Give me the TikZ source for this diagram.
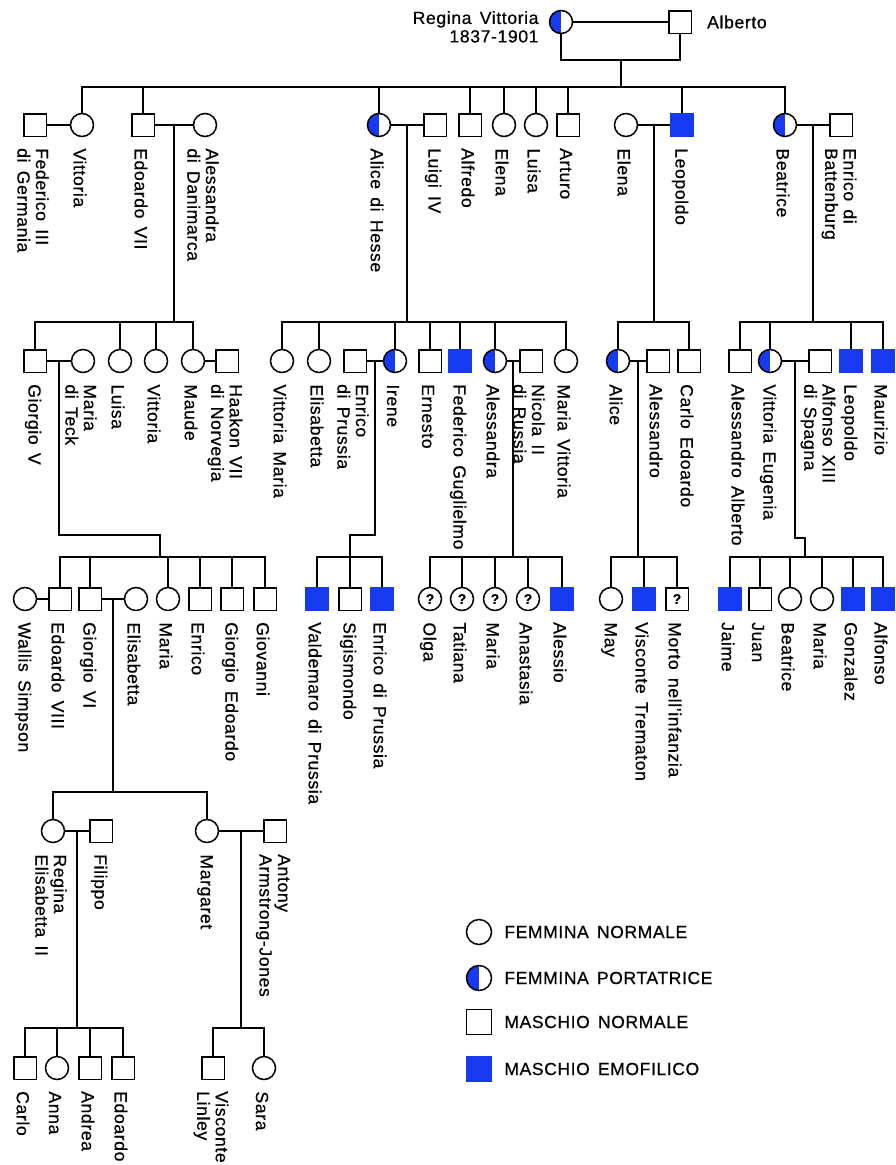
\documentclass[tikz,border=0pt]{standalone}
\usepackage{fontspec}
\setmainfont{Liberation Sans}[LetterSpace=3.5,WordSpace=1.5,FakeBold=0.5]
\usepackage{tikz}
\usetikzlibrary{calc}
\definecolor{hemo}{RGB}{22,58,240}
\newcommand{\namefont}{\fontsize{17.6}{18.5}\selectfont}
\newcommand{\keyfont}{\fontsize{17.5}{19}\selectfont}
\tikzset{
	male/.style={draw, rectangle, line width=1.5pt, minimum size=22.5pt, inner sep=0pt},
	female/.style={draw, circle, line width=1.5pt, minimum size=23pt, inner sep=0pt},
	sick/.style={male, fill=hemo, draw=hemo},
	carrier/.style={female,
		path picture={\fill[hemo] (path picture bounding box.south west) rectangle (path picture bounding box.north);}},
	unknown/.style={font=\fontsize{14}{14}\bfseries},
	% names run downwards under each symbol
	tag/.style={yshift=-11pt, xshift=-2pt, rotate=-90, anchor=west, align=left, inner sep=0pt, font=\namefont},
	keytext/.style={font=\keyfont, inner sep=0pt, xshift=12pt},
	kin/.style={line width=1.7pt}
}

\begin{document}
\begin{tikzpicture}[x=1pt, y=-1pt]
	\useasboundingbox[fill=white] (0,0) rectangle (895,1165);

	% Regina Vittoria and Alberto
	\node[carrier,
		label={[font=\namefont, align=right, anchor=north east, inner sep=0pt, xshift=-10pt, yshift=11pt]left:Regina Vittoria\\1837-1901}
	] (regina) at (561,22) {};
	\node[male, label={[font=\namefont, inner sep=0pt, xshift=15pt]right:Alberto}] (alberto) at (680,22) {};
	\coordinate (m-top) at (621,60);
	\coordinate (b-top) at (621,87);
	\draw[kin] (regina) -- (alberto)
	(regina) |- (m-top) -| (alberto)
	(m-top) -- (b-top);

	% first generation
	\node[male, label={[tag]below:Federico III\\di Germania}] (federico) at (35,125) {};
	\node[female, label={[tag]below:Vittoria}] (vittoria) at (82,125) {};
	\node[male, label={[tag]below:Edoardo VII}] (edoardo7) at (143,125) {};
	\node[female, label={[tag]below:Alessandra\\di Danimarca}] (alessandra) at (205,125) {};
	\node[carrier, label={[tag]below:Alice di Hesse}] (alice) at (379,125) {};
	\node[male, label={[tag]below:Luigi IV}] (luigi) at (435,125) {};
	\node[male, label={[tag]below:Alfredo}] (alfredo) at (470,125) {};
	\node[female, label={[tag]below:Elena}] (elena) at (504,125) {};
	\node[female, label={[tag]below:Luisa}] (luisa) at (536,125) {};
	\node[male, label={[tag]below:Arturo}] (arturo) at (568,125) {};
	\node[female, label={[tag]below:Elena}] (elenaW) at (626,125) {};
	\node[sick, label={[tag]below:Leopoldo}] (leopoldo) at (682,125) {};
	\node[carrier, label={[tag]below:Beatrice}] (beatrice) at (785,125) {};
	\node[male, label={[tag]below:Enrico di\\Battenburg}] (enricoB) at (841,125) {};

	\draw[kin] (b-top) -| (vittoria) (b-top) -| (edoardo7) (b-top) -| (alice)
	(b-top) -| (alfredo) (b-top) -| (elena) (b-top) -| (luisa) (b-top) -| (arturo)
	(b-top) -| (leopoldo) (b-top) -| (beatrice);

	% marriages
	\draw[kin] (federico) -- (vittoria) (edoardo7) -- (alessandra) (alice) -- (luigi)
	(elenaW) -- (leopoldo) (beatrice) -- (enricoB);
	\coordinate (m-edo) at ($(edoardo7)!.5!(alessandra)$);
	\coordinate (m-ali) at ($(alice)!.5!(luigi)$);
	\coordinate (m-leo) at ($(elenaW)!.5!(leopoldo)$);
	\coordinate (m-bea) at ($(beatrice)!.5!(enricoB)$);
	\coordinate (b-edo) at (174,322);
	\coordinate (b-ali) at (407,322);
	\coordinate (b-leo) at (654,322);
	\coordinate (b-bea) at (813,322);
	\draw[kin] (m-edo) -- (b-edo) (m-ali) -- (b-ali) (m-leo) -- (b-leo) (m-bea) -- (b-bea);

	% second generation
	\node[male, label={[tag]below:Giorgio V}] (giorgio5) at (35,361) {};
	\node[female, label={[tag]below:Maria\\di Teck}] (mariaT) at (83,361) {};
	\node[female, label={[tag]below:Luisa}] (luisa2) at (120,361) {};
	\node[female, label={[tag]below:Vittoria}] (vittoria2) at (156,361) {};
	\node[female, label={[tag]below:Maude}] (maude) at (193,361) {};
	\node[male, label={[tag]below:Haakon VII\\di Norvegia}] (haakon) at (227,361) {};
	\node[female, label={[tag]below:Vittoria Maria}] (vitMaria) at (282,361) {};
	\node[female, label={[tag]below:Elisabetta}] (elisabetta) at (319,361) {};
	\node[male, label={[tag]below:Enrico\\di Prussia}] (enricoP) at (355,361) {};
	\node[carrier, label={[tag]below:Irene}] (irene) at (395,361) {};
	\node[male, label={[tag]below:Ernesto}] (ernesto) at (430,361) {};
	\node[sick, label={[tag]below:Federico Guglielmo}] (fedGugl) at (460,361) {};
	\node[carrier, label={[tag]below:Alessandra}] (alessandra2) at (495,361) {};
	\node[male, label={[tag]below:Nicola II\\di Russia}] (nicola) at (531,361) {};
	\node[female, label={[tag]below:Maria Vittoria}] (mariaVit) at (566,361) {};
	\node[carrier, label={[tag]below:Alice}] (alice2) at (618,361) {};
	\node[male, label={[tag]below:Alessandro}] (alessandro) at (658,361) {};
	\node[male, label={[tag]below:Carlo Edoardo}] (carloEd) at (689,361) {};
	\node[male, label={[tag]below:Alessandro Alberto}] (alessAlb) at (740,361) {};
	\node[carrier, label={[tag]below:Vittoria Eugenia}] (vitEug) at (770,361) {};
	\node[male, label={[tag]below:Alfonso XIII\\di Spagna}] (alfonso13) at (820,361) {};
	\node[sick, label={[tag]below:Leopoldo}] (leopoldo2) at (851,361) {};
	\node[sick, label={[tag]below:Maurizio}] (maurizio) at (883,361) {};

	\draw[kin] (b-edo) -| (giorgio5) (b-edo) -| (luisa2) (b-edo) -| (vittoria2) (b-edo) -| (maude);
	\draw[kin] (b-ali) -| (vitMaria) (b-ali) -| (elisabetta) (b-ali) -| (irene) (b-ali) -| (ernesto)
	(b-ali) -| (fedGugl) (b-ali) -| (alessandra2) (b-ali) -| (mariaVit);
	\draw[kin] (b-leo) -| (alice2) (b-leo) -| (carloEd);
	\draw[kin] (b-bea) -| (alessAlb) (b-bea) -| (vitEug) (b-bea) -| (leopoldo2) (b-bea) -| (maurizio);

	% marriages
	\draw[kin] (giorgio5) -- (mariaT) (maude) -- (haakon) (enricoP) -- (irene)
	(alessandra2) -- (nicola) (alice2) -- (alessandro) (vitEug) -- (alfonso13);
	\coordinate (m-g5) at ($(giorgio5)!.5!(mariaT)$);
	\coordinate (m-ire) at ($(enricoP)!.5!(irene)$);
	\coordinate (m-nic) at ($(alessandra2)!.5!(nicola)$);
	\coordinate (m-al2) at ($(alice2)!.5!(alessandro)$);
	\coordinate (m-vit) at ($(vitEug)!.5!(alfonso13)$);
	\coordinate (j-g5) at (160,535);
	\coordinate (b-g5) at (160,557);
	\coordinate (j-ire) at (350,535);
	\coordinate (b-ire) at (350,557);
	\coordinate (b-nic) at (513,557);
	\coordinate (b-al2) at (638,557);
	\coordinate (j-vit) at (805,538);
	\coordinate (b-vit) at (805,557);
	\draw[kin] (m-g5) |- (j-g5) -- (b-g5)
	(m-ire) |- (j-ire) -- (b-ire)
	(m-nic) -- (b-nic)
	(m-al2) -- (b-al2)
	(m-vit) |- (j-vit) -- (b-vit);

	% third generation
	\node[female, label={[tag]below:Wallis Simpson}] (wallis) at (25,599) {};
	\node[male, label={[tag]below:Edoardo VIII}] (edoardo8) at (60,599) {};
	\node[male, label={[tag]below:Giorgio VI}] (giorgio6) at (90,599) {};
	\node[female, label={[tag]below:Elisabetta}] (elisabettaR) at (136,599) {};
	\node[female, label={[tag]below:Maria}] (maria3) at (168,599) {};
	\node[male, label={[tag]below:Enrico}] (enrico3) at (200,599) {};
	\node[male, label={[tag]below:Giorgio Edoardo}] (giorgioEd) at (232,599) {};
	\node[male, label={[tag]below:Giovanni}] (giovanni) at (265,599) {};
	\node[sick, label={[tag]below:Valdemaro di Prussia}] (valdemaro) at (317,599) {};
	\node[male, label={[tag]below:Sigismondo}] (sigismondo) at (350,599) {};
	\node[sick, label={[tag]below:Enrico di Prussia}] (enricoP2) at (382,599) {};
	\node[female, unknown, label={[tag]below:Olga}] (olga) at (430,599) {?};
	\node[female, unknown, label={[tag]below:Tatiana}] (tatiana) at (462,599) {?};
	\node[female, unknown, label={[tag]below:Maria}] (maria4) at (495,599) {?};
	\node[female, unknown, label={[tag]below:Anastasia}] (anastasia) at (528,599) {?};
	\node[sick, label={[tag]below:Alessio}] (alessio) at (562,599) {};
	\node[female, label={[tag]below:May}] (may) at (611,599) {};
	\node[sick, label={[tag]below:Visconte Trematon}] (trematon) at (644,599) {};
	\node[male, unknown, label={[tag]below:Morto nell'infanzia}] (morto) at (677,599) {?};
	\node[sick, label={[tag]below:Jaime}] (jaime) at (730,599) {};
	\node[male, label={[tag]below:Juan}] (juan) at (760,599) {};
	\node[female, label={[tag]below:Beatrice}] (beatrice2) at (790,599) {};
	\node[female, label={[tag]below:Maria}] (maria5) at (822,599) {};
	\node[sick, label={[tag]below:Gonzalez}] (gonzalez) at (853,599) {};
	\node[sick, label={[tag]below:Alfonso}] (alfonso) at (883,599) {};

	\draw[kin] (b-g5) -| (edoardo8) (b-g5) -| (giorgio6) (b-g5) -| (maria3) (b-g5) -| (enrico3)
	(b-g5) -| (giorgioEd) (b-g5) -| (giovanni);
	\draw[kin] (b-ire) -| (valdemaro) (b-ire) -| (sigismondo) (b-ire) -| (enricoP2);
	\draw[kin] (b-nic) -| (olga) (b-nic) -| (tatiana) (b-nic) -| (maria4) (b-nic) -| (anastasia)
	(b-nic) -| (alessio);
	\draw[kin] (b-al2) -| (may) (b-al2) -| (trematon) (b-al2) -| (morto);
	\draw[kin] (b-vit) -| (jaime) (b-vit) -| (juan) (b-vit) -| (beatrice2) (b-vit) -| (maria5)
	(b-vit) -| (gonzalez) (b-vit) -| (alfonso);

	% marriages
	\draw[kin] (wallis) -- (edoardo8) (giorgio6) -- (elisabettaR);
	\coordinate (m-g6) at ($(giorgio6)!.5!(elisabettaR)$);
	\coordinate (b-g6) at (113,792);
	\draw[kin] (m-g6) -- (b-g6);

	% fourth generation
	\node[female, label={[tag]below:Regina\\Elisabetta II}] (regElis) at (53,831) {};
	\node[male, label={[tag]below:Filippo}] (filippo) at (101,831) {};
	\node[female, label={[tag]below:Margaret}] (margaret) at (207,831) {};
	\node[male, label={[tag]below:Antony\\Armstrong-Jones}] (antony) at (275,831) {};

	\draw[kin] (b-g6) -| (regElis) (b-g6) -| (margaret);
	\draw[kin] (regElis) -- (filippo) (margaret) -- (antony);
	\coordinate (m-eli) at ($(regElis)!.5!(filippo)$);
	\coordinate (m-mar) at ($(margaret)!.5!(antony)$);
	\coordinate (b-eli) at (77,1028);
	\coordinate (b-mar) at (241,1028);
	\draw[kin] (m-eli) -- (b-eli) (m-mar) -- (b-mar);

	% fifth generation
	\node[male, label={[tag]below:Carlo}] (carlo) at (25,1068) {};
	\node[female, label={[tag]below:Anna}] (anna) at (57,1068) {};
	\node[male, label={[tag]below:Andrea}] (andrea) at (90,1068) {};
	\node[male, label={[tag]below:Edoardo}] (edoardo) at (123,1068) {};
	\node[male, label={[tag]below:Visconte\\Linley}] (linley) at (213,1068) {};
	\node[female, label={[tag]below:Sara}] (sara) at (264,1068) {};

	\draw[kin] (b-eli) -| (carlo) (b-eli) -| (anna) (b-eli) -| (andrea) (b-eli) -| (edoardo);
	\draw[kin] (b-mar) -| (linley) (b-mar) -| (sara);

	% key
	\node[female, minimum size=25pt, label={[keytext]right:FEMMINA NORMALE}] (key-f) at (479,932) {};
	\node[carrier, minimum size=25pt, label={[keytext]right:FEMMINA PORTATRICE}] (key-c) at (479,978) {};
	\node[male, minimum size=25pt, label={[keytext]right:MASCHIO NORMALE}] (key-m) at (479,1022) {};
	\node[sick, minimum size=25pt, label={[keytext]right:MASCHIO EMOFILICO}] (key-s) at (479,1069) {};
\end{tikzpicture}
\end{document}
